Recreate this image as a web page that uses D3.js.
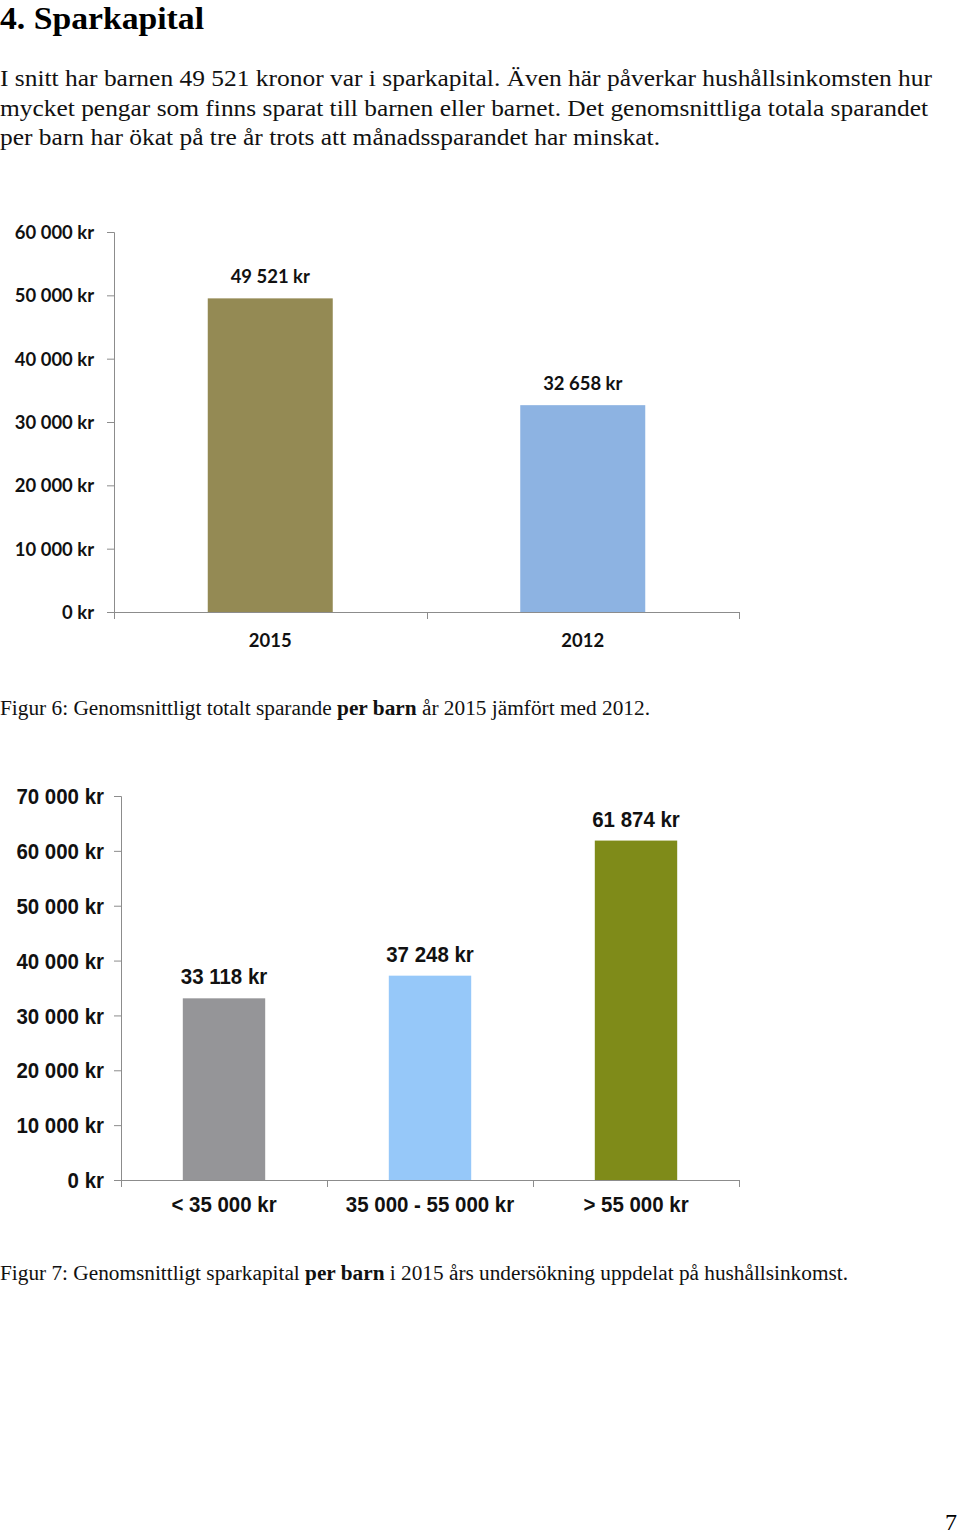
<!DOCTYPE html>
<html>
<head>
<meta charset="utf-8">
<script src="https://cdn.jsdelivr.net/npm/d3@7"></script>
<style>
  body { margin: 0; background: #fff; }
  svg { display: block; }
</style>
</head>
<body>
<svg width="960" height="1534"></svg>
<script>
// figur 6
var years = ["2015", "2012"];
var totalSaving = [49521, 32658];
var colors6 = ["#948a54", "#8db3e2"];
var ticks6 = [0, 10000, 20000, 30000, 40000, 50000, 60000];

// figur 7
var incomeGroups = ["< 35 000 kr", "35 000 - 55 000 kr", "> 55 000 kr"];
var capitalByIncome = [33118, 37248, 61874];
var colors7 = ["#959598", "#96c8f9", "#7f8b19"];
var ticks7 = [0, 10000, 20000, 30000, 40000, 50000, 60000, 70000];

var bodyLines = [
  "I snitt har barnen 49 521 kronor var i sparkapital. Även här påverkar hushållsinkomsten hur",
  "mycket pengar som finns sparat till barnen eller barnet. Det genomsnittliga totala sparandet",
  "per barn har ökat på tre år trots att månadssparandet har minskat."
];

var svg = d3.select("svg");
var kr = function(v){ return d3.format(",")(v).replace(/,/g, " ") + " kr"; };
var serif = "'Liberation Serif','Times New Roman',serif";

// text
svg.append("text").attr("x", 0).attr("y", 29)
  .attr("textLength", 204).attr("lengthAdjust", "spacingAndGlyphs")
  .style("font-family", serif).style("font-weight", "bold").style("font-size", "32px")
  .text("4. Sparkapital");

var widths = [932, 928, 660];
bodyLines.forEach(function(l, i){
  svg.append("text").attr("x", 0).attr("y", 86 + i*29.5)
    .attr("textLength", widths[i]).attr("lengthAdjust", "spacingAndGlyphs")
    .style("font-family", serif).style("font-size", "24px").style("fill", "#111")
    .text(l);
});

function caption(y, pre, bold, post, w){
  var t = svg.append("text").attr("x", 0).attr("y", y)
    .attr("textLength", w).attr("lengthAdjust", "spacingAndGlyphs")
    .style("font-family", serif).style("font-size", "20px").style("fill", "#111");
  t.append("tspan").text(pre);
  t.append("tspan").style("font-weight", "bold").text(bold);
  t.append("tspan").text(post);
}
caption(715, "Figur 6: Genomsnittligt totalt sparande ", "per barn", " år 2015 jämfört med 2012.", 650);
caption(1280, "Figur 7: Genomsnittligt sparkapital ", "per barn", " i 2015 års undersökning uppdelat på hushållsinkomst.", 848);

svg.append("text").attr("x", 957).attr("y", 1530).attr("text-anchor", "end")
  .style("font-family", serif).style("font-size", "24px").text("7");

// squeeze text horizontally to imitate a narrow face
function narrow(sel, k){
  if (!k) return;
  sel.each(function(){
    var w = this.getComputedTextLength();
    d3.select(this).attr("textLength", w * k).attr("lengthAdjust", "spacingAndGlyphs");
  });
}

function barChart(o){
  var g = svg.append("g");
  var x = d3.scaleBand().domain(o.cats).range([o.x0, o.x1]).paddingInner(0.6).paddingOuter(0.3);
  var y = d3.scaleLinear().domain([0, o.max]).range([o.y0, o.y1]);

  var ya = g.append("g").attr("transform", "translate(" + o.x0 + ",0)")
    .call(d3.axisLeft(y).tickValues(o.ticks).tickFormat(kr).tickSize(7).tickPadding(o.pad));
  ya.select(".domain").attr("stroke", "#8c8c8c");
  ya.selectAll(".tick line").attr("stroke", "#8c8c8c");
  ya.selectAll("text").style("font-family", o.font).style("font-weight", "bold")
    .style("font-size", o.fs + "px").style("fill", "#111").attr("dy", "0.35em");
  narrow(ya.selectAll("text"), o.squeeze);

  // x axis with category boundary ticks
  var xa = g.append("g");
  xa.append("line").attr("x1", o.x0).attr("x2", o.x1).attr("y1", o.y0 + 0.5).attr("y2", o.y0 + 0.5)
    .attr("stroke", "#8c8c8c");
  var bx = [o.x0].concat(o.cats.slice(1).map(function(c, i){ return (x(o.cats[i]) + x.bandwidth() + x(c))/2; })).concat([o.x1]);
  xa.selectAll("line.b").data(bx).enter().append("line").attr("class", "b")
    .attr("x1", function(d){ return Math.round(d) + 0.5; }).attr("x2", function(d){ return Math.round(d) + 0.5; })
    .attr("y1", o.y0).attr("y2", o.y0 + 7).attr("stroke", "#8c8c8c");

  g.selectAll("rect").data(o.vals).enter().append("rect")
    .attr("x", function(d, i){ return x(o.cats[i]); })
    .attr("width", x.bandwidth())
    .attr("y", function(d){ return y(d); })
    .attr("height", function(d){ return o.y0 - y(d); })
    .attr("fill", function(d, i){ return o.colors[i]; });

  var vl = g.selectAll("text.v").data(o.vals).enter().append("text").attr("class", "v")
    .attr("x", function(d, i){ return x(o.cats[i]) + x.bandwidth()/2; })
    .attr("y", function(d){ return y(d) - o.lab; })
    .attr("text-anchor", "middle")
    .style("font-family", o.font).style("font-weight", "bold").style("font-size", o.fs + "px").style("fill", "#111")
    .text(kr);
  narrow(vl, o.squeeze);

  var cl = g.selectAll("text.c").data(o.cats).enter().append("text").attr("class", "c")
    .attr("x", function(c){ return x(c) + x.bandwidth()/2; })
    .attr("y", o.y0 + o.catDy)
    .attr("text-anchor", "middle")
    .style("font-family", o.font).style("font-weight", "bold").style("font-size", o.fs + "px").style("fill", "#111")
    .text(function(c){ return c; });
  narrow(cl, o.squeeze);
}

barChart({
  cats: years, vals: totalSaving, colors: colors6, ticks: ticks6, max: 60000,
  x0: 114, x1: 739, y0: 612, y1: 232, font: "Lato, 'Open Sans', sans-serif", fs: 19,
  pad: 13, lab: 15, catDy: 35, squeeze: 0.97
});

barChart({
  cats: incomeGroups, vals: capitalByIncome, colors: colors7, ticks: ticks7, max: 70000,
  x0: 121, x1: 739, y0: 1180, y1: 796, font: "'Liberation Sans Narrow','Arial Narrow','Liberation Sans',sans-serif", fs: 22,
  pad: 10, lab: 14, catDy: 32, squeeze: 0.93
});
</script>
</body>
</html>
